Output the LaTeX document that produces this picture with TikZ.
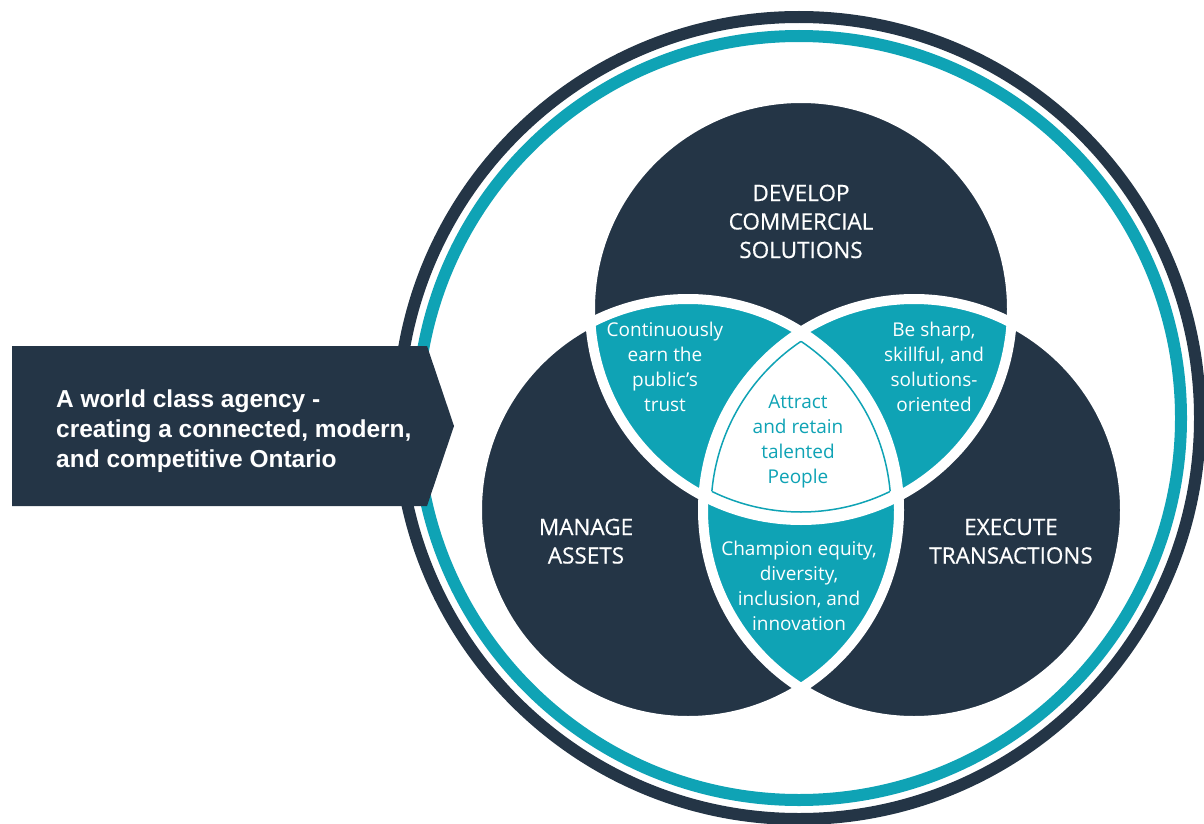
\documentclass[tikz,border=0pt]{standalone}
\usepackage{fontspec}
\setmainfont{Open Sans}
\newfontfamily\capsfont[FakeBold=0.5]{Open Sans}
\newfontfamily\arialb{Liberation Sans}
\definecolor{navy}{RGB}{36,53,70}
\definecolor{tealc}{RGB}{15,163,181}
\tikzset{
  capw/.style={text=white, font=\capsfont\fontsize{22.5}{27}\selectfont, anchor=base, inner sep=0pt},
  smw/.style={text=white, font=\fontsize{19}{23}\selectfont, anchor=base, inner sep=0pt},
  smt/.style={text=tealc, font=\fontsize{19}{23}\selectfont, anchor=base, inner sep=0pt},
  mis/.style={text=white, font=\arialb\bfseries\fontsize{24.5}{30}\selectfont, anchor=base west, inner sep=0pt},
}
\begin{document}
\begin{tikzpicture}[x=1pt,y=-1pt]
\useasboundingbox (0,0) rectangle (1204,824);
% outer rings
\coordinate (O) at (799,418);
\draw[navy, line width=12pt] (O) circle[radius=401pt];
\draw[tealc, line width=12pt] (O) circle[radius=382pt];
% venn circles
\coordinate (T) at (801,309);
\coordinate (L) at (688,510);
\coordinate (R) at (914,510);
\def\rr{211pt}
\def\rs{203pt}
\fill[navy] (T) circle[radius=\rr];
\fill[navy] (L) circle[radius=\rr];
\fill[navy] (R) circle[radius=\rr];
\begin{scope}
  \clip (T) circle[radius=\rr];
  \fill[tealc] (L) circle[radius=\rr];
  \fill[tealc] (R) circle[radius=\rr];
\end{scope}
\begin{scope}
  \clip (L) circle[radius=\rr];
  \fill[tealc] (R) circle[radius=\rr];
\end{scope}
\begin{scope}
  \clip (T) circle[radius=\rr];
  \clip (L) circle[radius=\rr];
  \fill[white] (R) circle[radius=\rr];
\end{scope}
\draw[white, line width=10pt] (T) circle[radius=\rr];
\draw[white, line width=10pt] (L) circle[radius=\rr];
\draw[white, line width=10pt] (R) circle[radius=\rr];
% inner outline of centre region
\begin{scope}
  \clip (L) circle[radius=\rs];
  \clip (R) circle[radius=\rs];
  \draw[tealc, line width=1.5pt] (T) circle[radius=\rs];
\end{scope}
\begin{scope}
  \clip (T) circle[radius=\rs];
  \clip (R) circle[radius=\rs];
  \draw[tealc, line width=1.5pt] (L) circle[radius=\rs];
\end{scope}
\begin{scope}
  \clip (T) circle[radius=\rs];
  \clip (L) circle[radius=\rs];
  \draw[tealc, line width=1.5pt] (R) circle[radius=\rs];
\end{scope}
% mission arrow
\fill[navy] (12,346) -- (427,346) -- (454,426) -- (427,506) -- (12,506) -- cycle;
\node[mis] (m1) at (56,407) {A world class agency -};
\node[mis] (m2) at (56,437) {creating a connected, modern,};
\node[mis] (m3) at (56,467) {and competitive Ontario};
% big labels
\node[capw] (d1) at (801,201) {DEVELOP};
\node[capw] (d2) at (801,229.5) {COMMERCIAL};
\node[capw] (d3) at (801,258) {SOLUTIONS};
\node[capw] (a1) at (586,535) {MANAGE};
\node[capw] (a2) at (586,563.5) {ASSETS};
\node[capw] (e1) at (1011,535) {EXECUTE};
\node[capw] (e2) at (1011,563.5) {TRANSACTIONS};
% teal regions
\node[smw] (c1) at (665,336.5) {Continuously};
\node[smw] (c2) at (665,361.5) {earn the};
\node[smw] (c3) at (665,386.5) {public’s};
\node[smw] (c4) at (665,411.5) {trust};
\node[smw] (b1) at (934,336.5) {Be sharp,};
\node[smw] (b2) at (934,361.5) {skillful, and};
\node[smw] (b3) at (934,386.5) {solutions-};
\node[smw] (b4) at (934,411.5) {oriented};
\node[smw] (h1) at (799,555) {Champion equity,};
\node[smw] (h2) at (799,580) {diversity,};
\node[smw] (h3) at (799,605) {inclusion, and};
\node[smw] (h4) at (799,630) {innovation};
% centre
\node[smt] (p1) at (798,408.3) {Attract};
\node[smt] (p2) at (798,433.3) {and retain};
\node[smt] (p3) at (798,458.3) {talented};
\node[smt] (p4) at (798,483.3) {People};
\end{tikzpicture}
\end{document}
